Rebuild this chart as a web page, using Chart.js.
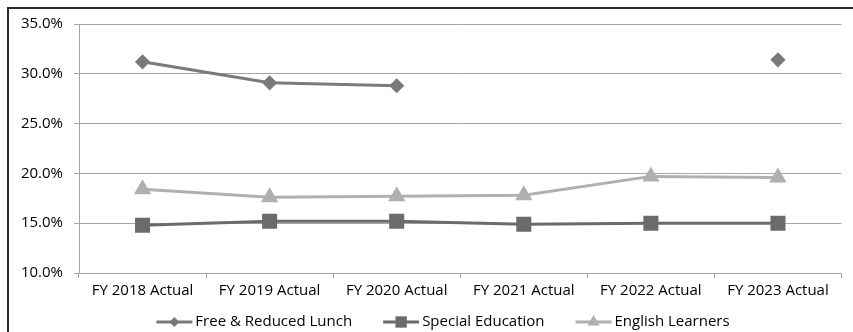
<!DOCTYPE html>
<html>
<head>
<meta charset="utf-8">
<script src="https://cdn.jsdelivr.net/npm/chart.js@4/dist/chart.umd.min.js"></script>
<style>
  html, body { margin: 0; padding: 0; background: #fff; }
  #wrap { position: relative; width: 853px; height: 332px; }
</style>
</head>
<body>
<div id="wrap"><canvas id="c" width="853" height="332"></canvas></div>
<script>
const categories = ['FY 2018 Actual', 'FY 2019 Actual', 'FY 2020 Actual', 'FY 2021 Actual', 'FY 2022 Actual', 'FY 2023 Actual'];
const freeReducedLunch = [31.2, 29.1, 28.8, null, null, 31.4];
const specialEducation = [14.8, 15.2, 15.2, 14.9, 15.0, 15.0];
const englishLearners = [18.4, 17.6, 17.7, 17.8, 19.7, 19.6];
const yTicks = [10, 15, 20, 25, 30, 35];

const FONT = '"Open Sans", sans-serif';
const FONT_SIZE = 15;

// Outer frame (top and left edges) behind the chart
const framePlugin = {
  id: 'frame',
  beforeDraw(chart) {
    const ctx = chart.ctx;
    ctx.save();
    ctx.fillStyle = '#fff';
    ctx.fillRect(0, 0, chart.width, chart.height);
    ctx.fillStyle = '#2b2b2b';
    ctx.fillRect(7, 7, chart.width - 7, 2);
    ctx.fillRect(7, 7, 2, chart.height - 7);
    ctx.restore();
  }
};

function drawMarker(ctx, style, x, y, r, color) {
  ctx.fillStyle = color;
  ctx.beginPath();
  if (style === 'rectRot') {
    ctx.moveTo(x - r, y); ctx.lineTo(x, y - r); ctx.lineTo(x + r, y); ctx.lineTo(x, y + r);
  } else if (style === 'rect') {
    const s = r * Math.SQRT1_2;
    ctx.rect(x - s, y - s, 2 * s, 2 * s);
  } else {
    ctx.moveTo(x, y - r); ctx.lineTo(x + r * 0.866, y + r * 0.5); ctx.lineTo(x - r * 0.866, y + r * 0.5);
  }
  ctx.closePath();
  ctx.fill();
}

// Legend row: line sample with marker, then series name
const legendPlugin = {
  id: 'lineLegend',
  afterDraw(chart) {
    const ctx = chart.ctx;
    const y = 322;
    const sampleW = 36, textGap = 3, itemGap = 31;
    ctx.save();
    ctx.font = FONT_SIZE + 'px ' + FONT;
    ctx.textBaseline = 'middle';
    const items = chart.data.datasets.map(ds => ({ ds, w: sampleW + textGap + ctx.measureText(ds.label).width }));
    const total = items.reduce((a, it) => a + it.w, 0) + itemGap * (items.length - 1);
    let x = 443 - total / 2;
    items.forEach(({ ds, w }) => {
      ctx.strokeStyle = ds.borderColor;
      ctx.lineWidth = ds.borderWidth;
      ctx.beginPath();
      ctx.moveTo(x, y); ctx.lineTo(x + sampleW, y);
      ctx.stroke();
      drawMarker(ctx, ds.pointStyle, x + sampleW / 2, y, ds.legendRadius, ds.pointBackgroundColor);
      ctx.fillStyle = '#000';
      ctx.fillText(ds.label, x + sampleW + textGap, y);
      x += w + itemGap;
    });
    ctx.restore();
  }
};

new Chart(document.getElementById('c'), {
  type: 'line',
  data: {
    labels: categories,
    datasets: [
      {
        label: 'Free & Reduced Lunch',
        data: freeReducedLunch,
        borderColor: '#7a7a7a', backgroundColor: '#7a7a7a',
        pointBackgroundColor: '#7a7a7a', pointBorderColor: '#7a7a7a',
        pointStyle: 'rectRot', pointRadius: 5.5, borderWidth: 3, legendRadius: 5
      },
      {
        label: 'Special Education',
        data: specialEducation,
        borderColor: '#6b6b6b', backgroundColor: '#6b6b6b',
        pointBackgroundColor: '#6b6b6b', pointBorderColor: '#6b6b6b',
        pointStyle: 'rect', pointRadius: 8.5, borderWidth: 3, legendRadius: 8
      },
      {
        label: 'English Learners',
        data: englishLearners,
        borderColor: '#b0b0b0', backgroundColor: '#b0b0b0',
        pointBackgroundColor: '#b0b0b0', pointBorderColor: '#b0b0b0',
        pointStyle: 'triangle', pointRadius: 7, borderWidth: 3, legendRadius: 7
      }
    ]
  },
  options: {
    responsive: false,
    animation: false,
    spanGaps: false,
    layout: { padding: { left: 0, right: 0, top: 24, bottom: 29 } },
    plugins: { legend: { display: false }, tooltip: { enabled: false } },
    elements: { line: { tension: 0 }, point: { borderWidth: 1 } },
    scales: {
      x: {
        offset: true,
        grid: { offset: true, drawOnChartArea: false, tickLength: 5, color: '#a6a6a6', lineWidth: 1 },
        border: { color: '#a6a6a6', width: 1 },
        ticks: { color: '#000', font: { family: FONT, size: FONT_SIZE }, padding: 4, maxRotation: 0, autoSkip: false },
        afterFit(scale) { scale.height = 30; }
      },
      y: {
        min: 10, max: 35,
        afterBuildTicks(scale) { scale.ticks = yTicks.map(v => ({ value: v })); },
        grid: { color: '#a6a6a6', lineWidth: 1, tickLength: 5 },
        border: { color: '#a6a6a6', width: 1 },
        ticks: {
          color: '#000', font: { family: FONT, size: FONT_SIZE }, padding: 11,
          callback: v => v.toFixed(1) + '%'
        },
        afterFit(scale) { scale.width = 79; }
      }
    }
  },
  plugins: [framePlugin, legendPlugin]
});
</script>
</body>
</html>
